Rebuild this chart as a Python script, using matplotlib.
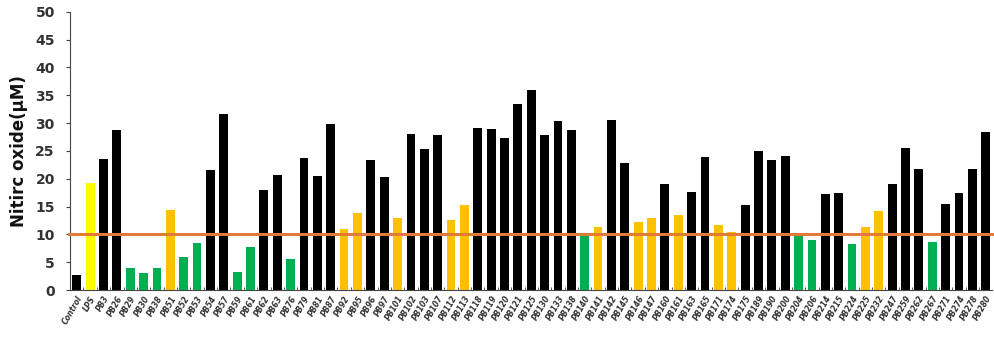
import numpy as np
import matplotlib.pyplot as plt
from matplotlib.ticker import MultipleLocator

labels = ['Control', 'LPS', 'PB3', 'PB26', 'PB29', 'PB30', 'PB38', 'PB51', 'PB52', 'PB53',
          'PB54', 'PB57', 'PB59', 'PB61', 'PB62', 'PB63', 'PB76', 'PB79', 'PB81', 'PB87',
          'PB92', 'PB95', 'PB96', 'PB97', 'PB101', 'PB102', 'PB103', 'PB107', 'PB112', 'PB113',
          'PB118', 'PB119', 'PB120', 'PB121', 'PB125', 'PB130', 'PB133', 'PB138', 'PB140', 'PB141',
          'PB142', 'PB145', 'PB146', 'PB147', 'PB160', 'PB161', 'PB163', 'PB165', 'PB171', 'PB174',
          'PB175', 'PB189', 'PB190', 'PB200', 'PB204', 'PB206', 'PB214', 'PB215', 'PB224', 'PB225',
          'PB232', 'PB247', 'PB259', 'PB262', 'PB267', 'PB271', 'PB274', 'PB278', 'PB280']

no_values = [2.7, 19.2, 23.5, 28.7, 4.0, 3.0, 3.9, 14.3, 6.0, 8.5,
             21.5, 31.7, 3.3, 7.7, 18.0, 20.7, 5.5, 23.7, 20.5, 29.8,
             11.0, 13.8, 23.4, 20.3, 12.9, 28.0, 25.4, 27.8, 12.6, 15.3,
             29.1, 28.9, 27.4, 33.5, 36.0, 27.9, 30.4, 28.8, 10.0, 11.4,
             30.5, 22.9, 12.2, 12.9, 19.0, 13.5, 17.7, 23.9, 11.7, 10.5,
             15.3, 25.0, 23.3, 24.1, 10.3, 8.9, 17.2, 17.5, 8.3, 11.3,
             14.2, 19.0, 25.6, 21.7, 8.6, 15.5, 17.5, 21.8, 28.4]

# k = black, y = LPS yellow, o = orange, g = green
groups = ['k', 'y', 'k', 'k', 'g', 'g', 'g', 'o', 'g', 'g',
          'k', 'k', 'g', 'g', 'k', 'k', 'g', 'k', 'k', 'k',
          'o', 'o', 'k', 'k', 'o', 'k', 'k', 'k', 'o', 'o',
          'k', 'k', 'k', 'k', 'k', 'k', 'k', 'k', 'g', 'o',
          'k', 'k', 'o', 'o', 'k', 'o', 'k', 'k', 'o', 'o',
          'k', 'k', 'k', 'k', 'g', 'g', 'k', 'k', 'g', 'o',
          'o', 'k', 'k', 'k', 'g', 'k', 'k', 'k', 'k']

threshold = 10

palette = {'k': '#000000', 'y': '#FFFF00', 'o': '#FFC000', 'g': '#00B050'}
colors = [palette[g] for g in groups]

fig = plt.figure(figsize=(9.95, 3.38), dpi=100)
ax = fig.add_axes([0.0704, 0.142, 0.927, 0.823])

x = np.arange(len(labels))
ax.bar(x, no_values, width=0.66, color=colors, zorder=2)
ax.plot([-0.6, len(labels) - 0.5], [threshold, threshold], color='#E07B39',
        linewidth=2.2, zorder=3, clip_on=False)

ax.set_xlim(-0.5, len(labels) - 0.5)
ax.set_ylim(0, 50)
ax.yaxis.set_major_locator(MultipleLocator(5))

for s in ['top', 'right']:
    ax.spines[s].set_visible(False)
ax.spines['left'].set_color('#444444')
ax.spines['bottom'].set_color('#444444')
ax.spines['left'].set_linewidth(0.8)
ax.spines['bottom'].set_linewidth(0.8)

ax.set_xticks(x)
ax.set_xticklabels(labels, rotation=60, ha='right', rotation_mode='anchor',
                   fontsize=5.5, fontstyle='italic', fontweight='bold', color='#333333')
ax.tick_params(axis='x', length=0, pad=3)
ax.set_xticks(x[:-1] + 0.5, minor=True)
ax.tick_params(axis='x', which='minor', length=2, direction='in', color='#444444')
ax.tick_params(axis='y', length=3, direction='out', pad=8, color='#444444')
for t in ax.get_yticklabels():
    t.set_family(['Liberation Sans Narrow', 'DejaVu Sans'])
    t.set_fontweight('bold')
    t.set_fontsize(10)
    t.set_color('#333333')

ax.set_ylabel('Nitirc oxide(μM)', fontsize=12, fontweight='bold', labelpad=5, color='#111111')

fig.savefig('out.png', dpi=100)
